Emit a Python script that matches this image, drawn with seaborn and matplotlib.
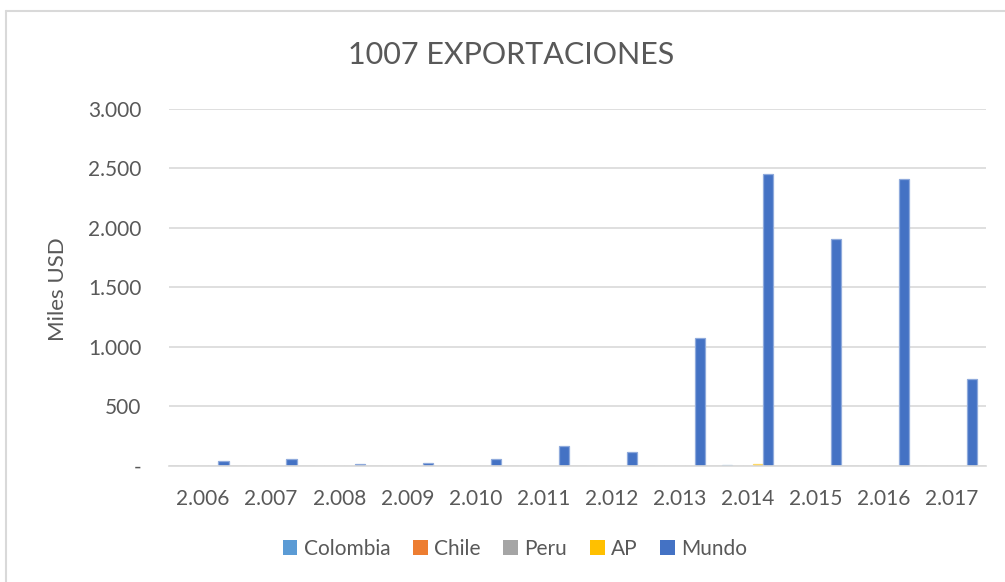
import pandas as pd
import matplotlib
matplotlib.use("Agg")
import matplotlib.pyplot as plt
import seaborn as sns
from matplotlib.ticker import FuncFormatter
from matplotlib.patches import Patch
from matplotlib.lines import Line2D
from matplotlib.colors import to_rgb

# Datos (miles USD)
anios = ["2.006", "2.007", "2.008", "2.009", "2.010", "2.011",
         "2.012", "2.013", "2.014", "2.015", "2.016", "2.017"]
colombia = [0, 0, 0, 0, 0, 0, 0, 0, 8, 0, 0, 0]
chile = [0, 0, 0, 0, 0, 0, 0, 0, 0, 0, 0, 0]
peru = [0, 0, 0, 0, 0, 0, 0, 0, 0, 0, 0, 0]
ap = [0, 0, 0, 0, 0, 0, 0, 0, 12, 0, 0, 0]
mundo = [42, 52, 15, 25, 52, 163, 112, 1072, 2451, 1909, 2409, 725]

paises = ["Colombia", "Chile", "Peru", "AP", "Mundo"]
colores = ["#5B9BD5", "#ED7D31", "#A5A5A5", "#FFC000", "#4472C4"]

df = pd.DataFrame({
    "anio": anios * 5,
    "pais": [p for p in paises for _ in anios],
    "valor": colombia + chile + peru + ap + mundo,
})

sns.set_theme(style="white")
plt.rcParams["font.family"] = ["Lato", "DejaVu Sans"]
gris = "#595959"

fig = plt.figure(figsize=(10.05, 5.82), dpi=100)
ax = fig.add_axes([169 / 1005, 1 - 465.5 / 582, (986 - 169) / 1005, (465.5 - 109) / 582])

sns.barplot(data=df, x="anio", y="valor", hue="pais", palette=colores,
            width=0.75, dodge=True, ax=ax, legend=False, saturation=1)

# borde claro en las barras con valor (como en Excel)
for bar in ax.patches:
    if bar.get_height() > 0:
        r, g, b = to_rgb(bar.get_facecolor())
        bar.set_edgecolor((r + (1 - r) * 0.4, g + (1 - g) * 0.4, b + (1 - b) * 0.4))
        bar.set_linewidth(0.9)

ax.set_ylim(0, 3000)
ax.set_xlim(-0.5, len(anios) - 0.5)
ax.set_yticks(range(0, 3001, 500))
ax.yaxis.set_major_formatter(FuncFormatter(
    lambda v, p: "-" if v == 0 else f"{int(v):,}".replace(",", ".")))
ax.grid(axis="y", color="#d9d9d9", linewidth=1.2)
ax.set_axisbelow(True)
for s in ["top", "right", "left"]:
    ax.spines[s].set_visible(False)
ax.spines["bottom"].set_color("#d9d9d9")
ax.spines["bottom"].set_linewidth(1.2)
ax.tick_params(axis="y", length=0, pad=20, labelsize=15, labelcolor=gris)
ax.tick_params(axis="x", length=0, pad=17, labelsize=15, labelcolor=gris)
ax.set_xlabel("")
ax.set_ylabel("")

fig.text(58 / 1005, 1 - 289 / 582, "Miles USD", rotation=90, ha="center",
         va="center", fontsize=16, color=gris)
fig.text(511 / 1005, 1 - 55 / 582, "1007 EXPORTACIONES", ha="center",
         va="center", fontsize=22, color=gris)

# Leyenda
handles = [Patch(facecolor=c, edgecolor="none") for c in colores]
fig.legend(handles, paises, loc="center", bbox_to_anchor=(515 / 1005, 1 - 549 / 582),
           ncol=5, frameon=False, fontsize=15, labelcolor=gris,
           handlelength=0.7, handleheight=0.7, handletextpad=0.3, columnspacing=1.1)

# Borde del area del grafico
fig.add_artist(Line2D([6 / 1005, 1], [1 - 11 / 582, 1 - 11 / 582],
                      color="#d9d9d9", linewidth=1.5, transform=fig.transFigure))
fig.add_artist(Line2D([6 / 1005, 6 / 1005], [0, 1 - 11 / 582],
                      color="#d9d9d9", linewidth=1.5, transform=fig.transFigure))

fig.savefig("out.png", dpi=100, facecolor="white")
